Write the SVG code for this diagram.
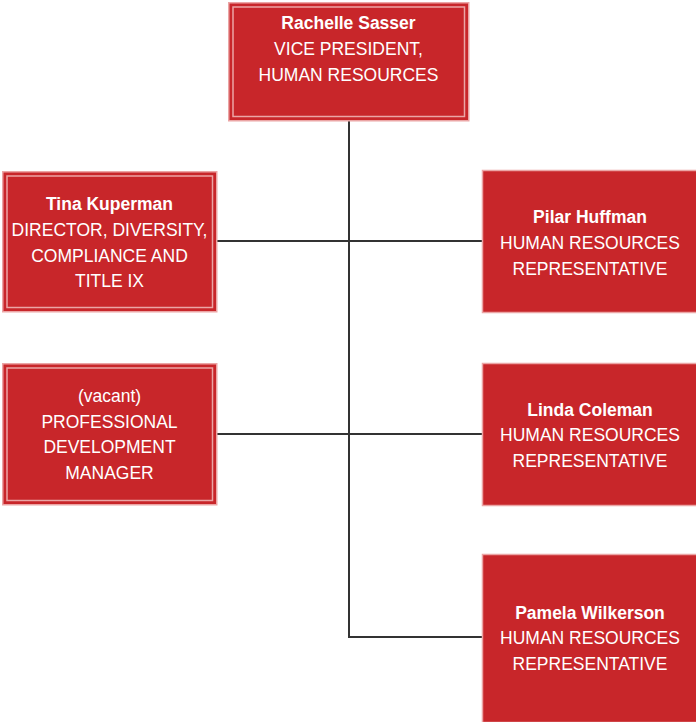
<svg xmlns="http://www.w3.org/2000/svg" width="696" height="722" viewBox="0 0 696 722">
<style>
.box{fill:#C8262A;stroke:#EBA5A5;stroke-width:1.5}
.inner{fill:none;stroke:#EBA5A5;stroke-width:1.5}
.t{font-family:"Liberation Sans",Arial,sans-serif;font-size:17.5px;fill:#fff;text-anchor:middle}
.b{font-weight:bold}
.c{stroke:#333;stroke-width:2;fill:none}
</style>
<rect width="696" height="722" fill="#fff"/>
<g id="connectors">
<path class="c" d="M349 121 V637 H482"/>
<path class="c" d="M217 241 H482"/>
<path class="c" d="M217 434 H482"/>
</g>
<g id="rachelle">
<rect class="box" x="228.75" y="2.75" width="240" height="118"/>
<rect class="inner" x="233" y="7" width="231.5" height="109.5"/>
<text class="t" x="348.5" y="29"><tspan class="b">Rachelle Sasser</tspan><tspan x="348.5" y="55">VICE PRESIDENT,</tspan><tspan x="348.5" y="81">HUMAN RESOURCES</tspan></text>
</g>
<g id="tina">
<rect class="box" x="2.75" y="171.75" width="214" height="140"/>
<rect class="inner" x="7" y="176" width="205.5" height="131.5"/>
<text class="t" x="109.5" y="210"><tspan class="b">Tina Kuperman</tspan><tspan x="109.5" y="236">DIRECTOR, DIVERSITY,</tspan><tspan x="109.5" y="262">COMPLIANCE AND</tspan><tspan x="109.5" y="287">TITLE IX</tspan></text>
</g>
<g id="vacant">
<rect class="box" x="2.75" y="363.75" width="214" height="141"/>
<rect class="inner" x="7" y="368" width="205.5" height="132.5"/>
<text class="t" x="109.5" y="402"><tspan>(vacant)</tspan><tspan x="109.5" y="428">PROFESSIONAL</tspan><tspan x="109.5" y="453">DEVELOPMENT</tspan><tspan x="109.5" y="479">MANAGER</tspan></text>
</g>
<g id="pilar">
<rect class="box" x="482.5" y="170.5" width="215" height="142"/>
<text class="t" x="590" y="223"><tspan class="b">Pilar Huffman</tspan><tspan x="590" y="249">HUMAN RESOURCES</tspan><tspan x="590" y="275">REPRESENTATIVE</tspan></text>
</g>
<g id="linda">
<rect class="box" x="482.5" y="363.5" width="215" height="142"/>
<text class="t" x="590" y="416"><tspan class="b">Linda Coleman</tspan><tspan x="590" y="441">HUMAN RESOURCES</tspan><tspan x="590" y="467">REPRESENTATIVE</tspan></text>
</g>
<g id="pamela">
<rect class="box" x="482.5" y="554.5" width="215" height="168"/>
<text class="t" x="590" y="619"><tspan class="b">Pamela Wilkerson</tspan><tspan x="590" y="644">HUMAN RESOURCES</tspan><tspan x="590" y="670">REPRESENTATIVE</tspan></text>
</g>
</svg>
